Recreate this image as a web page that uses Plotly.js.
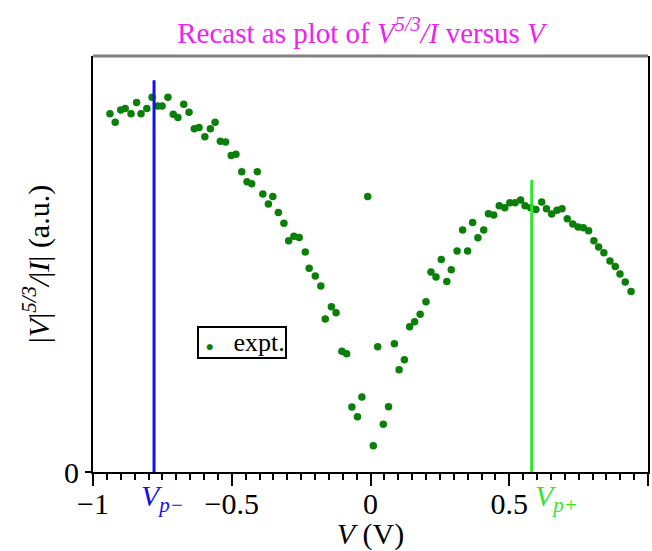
<!DOCTYPE html>
<html>
<head>
<meta charset="utf-8">
<script src="https://cdn.plot.ly/plotly-3.0.1.min.js"></script>
<style>html,body{margin:0;padding:0;background:#fff;}#chart{width:652px;height:551px;}</style>
</head>
<body>
<div id="chart"></div>
<script>
// Measured data: V (volts) and |V|^(5/3)/|I| (arbitrary units)
const voltage = [
 -0.939,-0.920,-0.900,-0.884,-0.863,-0.843,-0.827,-0.806,-0.787,-0.767,
 -0.751,-0.730,-0.711,-0.694,-0.673,-0.654,-0.635,-0.618,-0.597,-0.577,
 -0.560,-0.541,-0.522,-0.502,-0.485,-0.464,-0.445,-0.428,-0.408,-0.388,
 -0.368,-0.352,-0.332,-0.312,-0.295,-0.276,-0.257,-0.235,-0.221,-0.199,
 -0.179,-0.163,-0.141,-0.124,-0.103,-0.086,-0.067,-0.047,-0.031,-0.010,
  0.010, 0.026, 0.046, 0.065, 0.086, 0.103, 0.122, 0.141, 0.159, 0.179,
  0.200, 0.218, 0.236, 0.255, 0.275, 0.291, 0.312, 0.332, 0.350, 0.368,
  0.387, 0.408, 0.425, 0.444, 0.464, 0.484, 0.502, 0.521, 0.541, 0.557,
  0.577, 0.596, 0.617, 0.634, 0.653, 0.672, 0.690, 0.709, 0.729, 0.748,
  0.767, 0.786, 0.805, 0.822, 0.841, 0.863, 0.882, 0.899, 0.918, 0.939
];
const recast = [
  0.861, 0.841, 0.870, 0.874, 0.861, 0.888, 0.861, 0.874, 0.901, 0.880,
  0.880, 0.901, 0.860, 0.852, 0.884, 0.865, 0.825, 0.828, 0.806, 0.825,
  0.841, 0.795, 0.793, 0.761, 0.764, 0.722, 0.698, 0.693, 0.722, 0.668,
  0.644, 0.662, 0.624, 0.598, 0.556, 0.567, 0.564, 0.529, 0.490, 0.471,
  0.447, 0.368, 0.397, 0.383, 0.290, 0.284, 0.156, 0.133, 0.180, 0.662,
  0.063, 0.301, 0.115, 0.157, 0.308, 0.246, 0.270, 0.349, 0.361, 0.379,
  0.409, 0.481, 0.469, 0.511, 0.458, 0.486, 0.531, 0.582, 0.531, 0.600,
  0.563, 0.582, 0.621, 0.618, 0.640, 0.635, 0.647, 0.647, 0.654, 0.640,
  0.635, 0.631, 0.649, 0.633, 0.620, 0.629, 0.633, 0.609, 0.596, 0.589,
  0.587, 0.580, 0.556, 0.541, 0.527, 0.507, 0.494, 0.476, 0.457, 0.434
];
const seriesName = 'expt.';
// Peak voltages marked by vertical lines, and the height each line reaches
const peakNames = ['V<sub>p−</sub>', 'V<sub>p+</sub>'];
const peakVoltage = [-0.780, 0.581];
const peakTop = [0.942, 0.702];
const xTickVals = [-1, -0.5, 0, 0.5, 1];
const xTickText = ['−1', '−0.5', '0', '0.5', '1'];
const yTickVals = [0];
const yTickText = ['0'];

const serif = 'Liberation Serif, Times New Roman, serif';
const blue = '#1010f0';
const lime = '#2ee82e';
const dotGreen = '#0a800a';
const FS = 30;

const traces = [
  {
    x: voltage, y: recast, type: 'scatter', mode: 'markers', name: seriesName,
    marker: {color: dotGreen, size: 7.5, symbol: 'circle', line: {width: 0}},
    showlegend: false
  },
  {
    x: [peakVoltage[0], peakVoltage[0]], y: [0, peakTop[0]], type: 'scatter', mode: 'lines',
    line: {color: blue, width: 3}, showlegend: false, hoverinfo: 'skip'
  },
  {
    x: [peakVoltage[1], peakVoltage[1]], y: [0, peakTop[1]], type: 'scatter', mode: 'lines',
    line: {color: lime, width: 3}, showlegend: false, hoverinfo: 'skip'
  }
];

const layout = {
  width: 652, height: 551,
  margin: {l: 93, r: 4, t: 56, b: 79},
  paper_bgcolor: '#fff', plot_bgcolor: '#fff',
  font: {family: serif, size: FS, color: '#000'},
  title: {
    text: 'Recast as plot of <i>V</i><sup><i>5/3</i></sup><i>/I</i> versus <i>V</i>',
    font: {family: serif, size: 29, color: '#ee22ee'},
    x: 361/652, xref: 'container', xanchor: 'center',
    y: 1 - 33/551, yref: 'container', yanchor: 'middle'
  },
  showlegend: false,
  xaxis: {
    range: [-1, 1], showgrid: false, zeroline: false,
    showline: true, linecolor: '#000', linewidth: 2,
    ticks: 'outside', ticklen: 12, tickwidth: 2, tickcolor: '#000',
    tickvals: xTickVals, ticktext: xTickText,
    ticklabelstandoff: -8,
    minor: {dtick: 0.05, tick0: 0, ticks: 'outside', ticklen: 6, tickwidth: 2, tickcolor: '#000', showgrid: false},
    tickfont: {family: serif, size: FS, color: '#000'},
    title: {text: '<i>V</i> (V)', font: {family: serif, size: FS, color: '#000'}, standoff: 0}
  },
  yaxis: {
    range: [0, 1], showgrid: false, zeroline: false,
    showline: true, linecolor: '#000', linewidth: 2, mirror: true,
    ticks: 'outside', ticklen: 6, tickwidth: 2, tickcolor: '#000',
    tickvals: yTickVals, ticktext: yTickText,
    tickfont: {family: serif, size: FS, color: '#000'},
    title: {text: '|<i>V</i>|<sup><i>5/3</i></sup><i>/</i>|<i>I</i>| (a.u.)', font: {family: serif, size: FS, color: '#000'}, standoff: 6}
  },
  shapes: [
    {type: 'line', xref: 'paper', yref: 'paper', x0: 0, x1: 1, y0: 1, y1: 1, line: {color: '#808080', width: 3}}
  ],
  annotations: [
    {x: peakVoltage[0], y: -0.012, xref: 'x', yref: 'paper', xshift: -15, xanchor: 'left', yanchor: 'top', showarrow: false,
     text: '<i>' + peakNames[0] + '</i>', font: {family: serif, size: FS, color: blue}},
    {x: peakVoltage[1], y: -0.012, xref: 'x', yref: 'paper', xshift: 1, xanchor: 'left', yanchor: 'top', showarrow: false,
     text: '<i>' + peakNames[1] + '</i>', font: {family: serif, size: FS, color: lime}},
    {x: (197-93)/555, y: (472-326)/416, xref: 'paper', yref: 'paper', xanchor: 'left', yanchor: 'top', showarrow: false,
     text: '\u00a0<span style="color:' + dotGreen + ';font-size:14px">●</span>\u00a0\u00a0 ' + seriesName,
     font: {family: serif, size: 26, color: '#000'},
     bgcolor: '#fff', bordercolor: '#000', borderwidth: 2, borderpad: 0}
  ]
};

Plotly.newPlot('chart', traces, layout, {displayModeBar: false, staticPlot: true});
</script>
</body>
</html>
